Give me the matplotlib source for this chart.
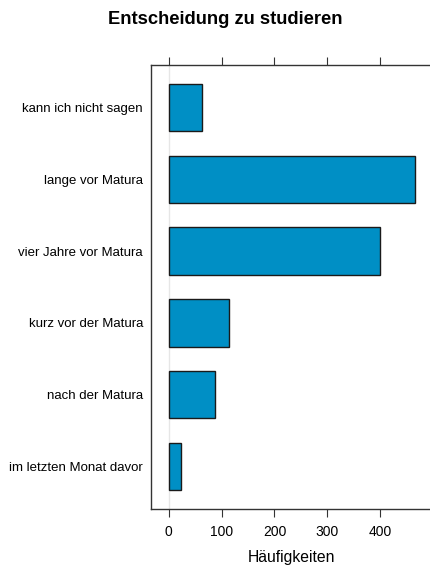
import matplotlib
matplotlib.use('Agg')
import matplotlib.pyplot as plt

plt.rcParams['font.family'] = ['Liberation Sans', 'DejaVu Sans']

# categories from bottom to top
categories = ['im letzten Monat davor', 'nach der Matura', 'kurz vor der Matura',
              'vier Jahre vor Matura', 'lange vor Matura', 'kann ich nicht sagen']
counts = [24, 88, 114, 400, 466, 63]
x_ticks = [0, 100, 200, 300, 400]

fig = plt.figure(figsize=(4.3, 5.66), dpi=100)
ax = fig.add_axes([0.352, 0.1002, 0.654, 0.7855])

ypos = range(1, len(categories) + 1)
ax.axvline(0, color='#e6e6e6', lw=1, zorder=0)  # reference line
ax.barh(ypos, counts, height=0.66, color='#008FC5', edgecolor='#1a1a1a', linewidth=1, zorder=2)

ax.set_xlim(-32.6, 498.6)
ax.set_ylim(0.4, len(categories) + 0.6)
ax.set_yticks(list(ypos))
ax.set_yticklabels(categories, fontsize=9.5)
ax.tick_params(axis='y', length=0, pad=6)
ax.set_xticks(x_ticks)
ax.set_xticklabels([str(t) for t in x_ticks], fontsize=10)
ax.tick_params(axis='x', top=True, bottom=True, direction='out', length=6, width=0.8, color='#333333', pad=5)
for s in ax.spines.values():
    s.set_color('#333333')
    s.set_linewidth(1)

ax.set_xlabel('Häufigkeiten', fontsize=11.3, labelpad=8)
fig.text(0.523, 0.965, 'Entscheidung zu studieren', fontsize=13.2, fontweight='bold',
         ha='center', va='center')

fig.savefig('out.png', dpi=100)
